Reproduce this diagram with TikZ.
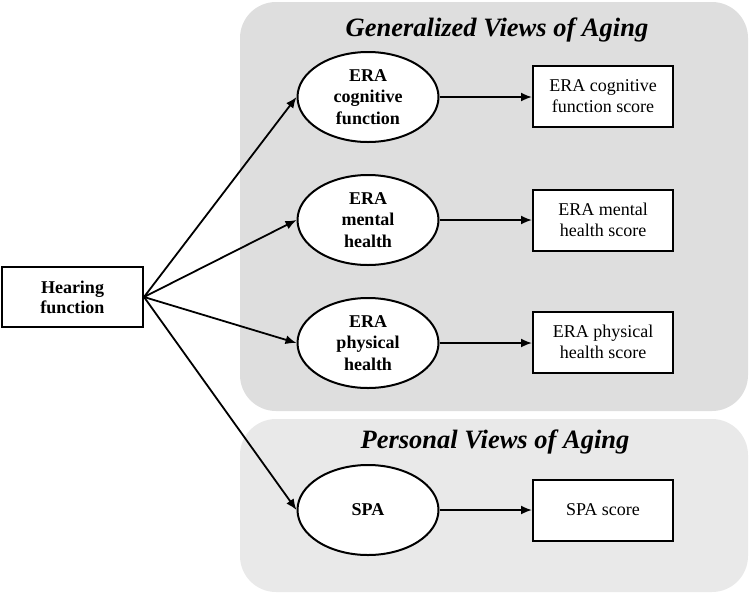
\documentclass[tikz,border=0pt]{standalone}
\usepackage{fontspec}
\setmainfont{Liberation Serif}
\usetikzlibrary{shapes.geometric,arrows.meta}
\begin{document}
\begin{tikzpicture}[x=1pt,y=-1pt,
  panel/.style={fill=#1,draw=none,rounded corners=36pt},
  latent/.style={ellipse,draw,line width=2pt,fill=white,minimum width=141pt,minimum height=90pt,inner sep=0pt,align=center,font=\fontsize{18}{21.5}\selectfont\bfseries},
  obs/.style={rectangle,draw,line width=2pt,fill=white,minimum width=140pt,minimum height=61pt,inner sep=0pt,align=center,font=\fontsize{18}{21}\selectfont},
  arr/.style={line width=1.8pt,-{Latex[length=11pt,width=9pt]}},
  ttl/.style={font=\fontsize{26.5}{30}\selectfont\bfseries\itshape}]
\useasboundingbox (0,0) rectangle (752,595);
\fill[panel=gray!26] (240,2) rectangle (748,411);
\fill[panel=gray!17] (240,419) rectangle (748,592);
\node[ttl] (t1) at (497,30) {Generalized Views of Aging};
\node[ttl] (t2) at (495,442) {Personal Views of Aging};
\node[obs,font=\fontsize{18}{20}\selectfont\bfseries,minimum width=141pt,minimum height=60pt] (hf) at (72.5,297) {Hearing\\function};
\node[latent] (e1) at (368,97) {ERA\\cognitive\\function};
\node[latent] (e2) at (368,220) {ERA\\mental\\health};
\node[latent] (e3) at (368,343) {ERA\\physical\\health};
\node[latent] (e4) at (368,510) {SPA};
\node[obs] (b1) at (603,96) {ERA cognitive\\function score};
\node[obs] (b2) at (603,220) {ERA mental\\health score};
\node[obs] (b3) at (603,342) {ERA physical\\health score};
\node[obs] (b4) at (603,510) {SPA score};
\foreach \i in {1,2,3,4}{
  \draw[arr] (hf.east) -- (e\i.west);
  \draw[arr] (e\i.east) -- (e\i.east -| b\i.west);
}
\end{tikzpicture}
\end{document}
